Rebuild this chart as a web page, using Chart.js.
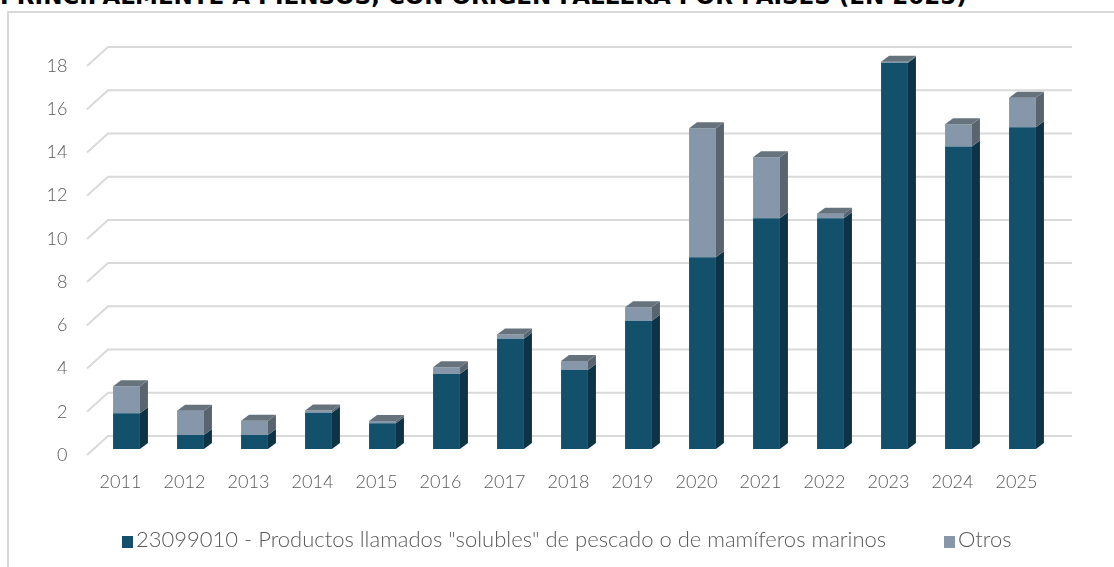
<!DOCTYPE html>
<html>
<head>
<meta charset="utf-8">
<script src="https://cdn.jsdelivr.net/npm/chart.js@4/dist/chart.umd.min.js"></script>
<style>
  html, body { margin: 0; padding: 0; background: #fff; overflow: hidden; }
  #wrap { position: relative; width: 1114px; height: 567px; overflow: hidden; }
  #frame { position: absolute; left: 7px; top: 11px; width: 1200px; height: 700px;
           border-left: 2px solid #d9d9d9; border-top: 2px solid #d9d9d9; }
  #title { position: absolute; left: 0px; top: -17.5px; white-space: nowrap; line-height: 23px;
           font: bold 23px "DejaVu Sans", sans-serif; color: #000; }
  #chartBox { position: absolute; left: 0; top: 0; width: 1114px; height: 567px; }
  .leg { position: absolute; top: 525px; font: 300 22px Lato, sans-serif; color: #595959; white-space: nowrap; }
  .sw { display: inline-block; width: 11px; height: 12px; margin-right: 3px; vertical-align: -1px; }
</style>
</head>
<body>
<div id="wrap">
  <div id="title">PRINCIPALMENTE A PIENSOS, CON ORIGEN FALLEKA POR PAISES (EN 2025)</div>
  <div id="frame"></div>
  <div id="chartBox"><canvas id="c" width="1114" height="567"></canvas></div>
  <div class="leg" id="leg1" style="left:122px"><span class="sw" style="background:#12506b"></span><span id="lt1"></span></div>
  <div class="leg" id="leg2" style="left:944px"><span class="sw" style="background:#8597a8"></span><span id="lt2"></span></div>
</div>
<script>
const categories = ["2011","2012","2013","2014","2015","2016","2017","2018","2019","2020","2021","2022","2023","2024","2025"];
const solubles = [1.65, 0.65, 0.65, 1.68, 1.19, 3.47, 5.1, 3.66, 5.94, 8.87, 10.68, 10.68, 17.87, 14.0, 14.89];
const otros    = [1.25, 1.12, 0.66, 0.10, 0.11, 0.31, 0.2, 0.41, 0.62, 5.97, 2.82, 0.20, 0.05, 1.03, 1.36];
const seriesNames = ['23099010 - Productos llamados "solubles" de pescado o de mamíferos marinos', 'Otros'];
const yTicks = [0, 2, 4, 6, 8, 10, 12, 14, 16, 18];

document.getElementById('lt1').textContent = seriesNames[0];
document.getElementById('lt2').textContent = seriesNames[1];

const TICK_FONT = { family: "Lato, sans-serif", size: 18, weight: 300 };
const DX = 8, DY = 6;
const faceColors = [
  { side: '#0c3447', top: '#4f6472' },
  { side: '#586470', top: '#66737d' }
];

function side(ctx, p, color) {
  const right = p.x + p.width / 2;
  const top = Math.min(p.y, p.base), bottom = Math.max(p.y, p.base);
  if (bottom - top < 0.3) return;
  ctx.fillStyle = color;
  ctx.beginPath();
  ctx.moveTo(right, top);
  ctx.lineTo(right + DX, top - DY);
  ctx.lineTo(right + DX, bottom - DY);
  ctx.lineTo(right, bottom);
  ctx.closePath();
  ctx.fill();
}
function topFace(ctx, p, color) {
  const left = p.x - p.width / 2, right = p.x + p.width / 2;
  const top = Math.min(p.y, p.base);
  ctx.fillStyle = color;
  ctx.beginPath();
  ctx.moveTo(left, top);
  ctx.lineTo(left + DX, top - DY);
  ctx.lineTo(right + DX, top - DY);
  ctx.lineTo(right, top);
  ctx.closePath();
  ctx.fill();
}

const threeD = {
  id: 'threeD',
  beforeDatasetsDraw(chart) {
    const ctx = chart.ctx, y = chart.scales.y, a = chart.chartArea;
    ctx.save();
    ctx.strokeStyle = '#d9d9d9';
    ctx.lineWidth = 2;
    yTicks.forEach(v => {
      const yf = y.getPixelForValue(v);
      ctx.beginPath();
      ctx.moveTo(a.left - 7.5, yf + 6);
      ctx.lineTo(a.left + 13.5, yf - 13);
      ctx.lineTo(a.right + 17.5, yf - 13);
      ctx.stroke();
    });
    ctx.restore();
  },
  afterDatasetsDraw(chart) {
    const ctx = chart.ctx;
    const m0 = chart.getDatasetMeta(0), m1 = chart.getDatasetMeta(1);
    ctx.save();
    m0.data.forEach((b0, i) => {
      const p0 = b0.getProps(['x', 'y', 'base', 'width'], true);
      const p1 = m1.data[i].getProps(['x', 'y', 'base', 'width'], true);
      side(ctx, p0, faceColors[0].side);
      if (!(otros[i] > 0)) topFace(ctx, p0, faceColors[0].top);
      if (otros[i] > 0) {
        side(ctx, p1, faceColors[1].side);
        topFace(ctx, p1, faceColors[1].top);
      }
    });
    ctx.restore();
  }
};

new Chart(document.getElementById('c'), {
  type: 'bar',
  data: {
    labels: categories,
    datasets: [
      { label: seriesNames[0], data: solubles, backgroundColor: '#12506b',
        barPercentage: 0.42, categoryPercentage: 1.0 },
      { label: seriesNames[1], data: otros, backgroundColor: '#8597a8',
        barPercentage: 0.42, categoryPercentage: 1.0 }
    ]
  },
  options: {
    responsive: false,
    animation: false,
    layout: { padding: { top: 60, right: 59.5, bottom: 0, left: 0 } },
    plugins: { legend: { display: false }, tooltip: { enabled: false }, title: { display: false } },
    scales: {
      x: {
        stacked: true,
        grid: { display: false, drawTicks: false },
        border: { display: false },
        ticks: { color: '#595959', font: TICK_FONT, padding: 22, labelOffset: -6, maxRotation: 0 },
        afterFit: s => { s.height = 118; }
      },
      y: {
        stacked: true,
        min: 0, max: 18,
        grid: { display: false, drawTicks: false },
        border: { display: false },
        ticks: { stepSize: 2, color: '#595959', font: TICK_FONT, padding: 27, labelOffset: 6 },
        afterFit: s => { s.width = 94.5; }
      }
    }
  },
  plugins: [threeD]
});
</script>
</body>
</html>
